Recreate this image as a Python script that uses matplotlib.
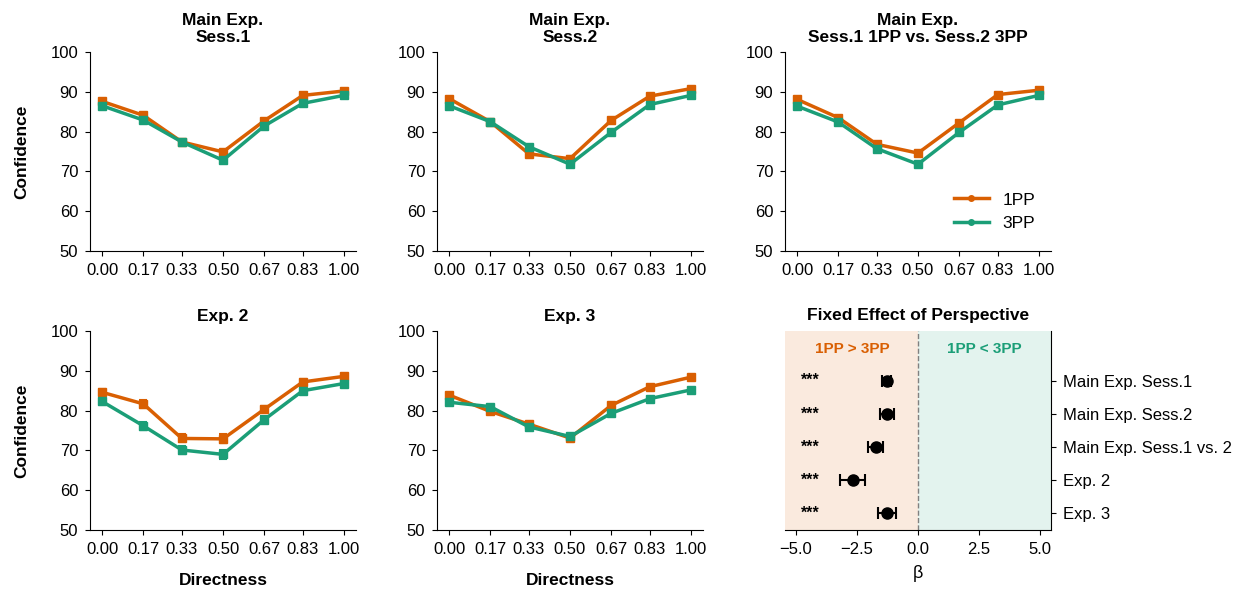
import numpy as np
import matplotlib.pyplot as plt
from matplotlib.lines import Line2D

plt.rcParams['font.family'] = ['Liberation Sans', 'DejaVu Sans']

directness = [0.00, 0.17, 0.33, 0.50, 0.67, 0.83, 1.00]
tick_labels = ['0.00', '0.17', '0.33', '0.50', '0.67', '0.83', '1.00']

# mean confidence per panel: (1PP, 3PP)
sess1_1pp = [87.6, 84.1, 77.4, 74.9, 82.7, 89.1, 90.2]
sess1_3pp = [86.5, 82.9, 77.4, 72.8, 81.4, 87.1, 89.1]
sess2_1pp = [88.3, 82.5, 74.4, 73.2, 82.8, 88.9, 90.8]
sess2_3pp = [86.5, 82.5, 76.2, 71.8, 79.8, 86.8, 89.1]
cross_1pp = [88.1, 83.5, 76.8, 74.6, 82.2, 89.3, 90.4]
cross_3pp = [86.4, 82.4, 75.7, 71.8, 79.8, 86.7, 89.1]
exp2_1pp = [84.6, 81.7, 73.0, 72.9, 80.3, 87.2, 88.6]
exp2_3pp = [82.3, 76.2, 70.1, 69.0, 77.7, 85.0, 86.8]
exp3_1pp = [83.9, 79.8, 76.6, 73.1, 81.3, 86.0, 88.4]
exp3_3pp = [82.1, 81.0, 75.9, 73.5, 79.3, 83.0, 85.2]

# standard errors
se_small = [0.5, 0.5, 0.5, 0.6, 0.5, 0.4, 0.4]
se_exp2 = [0.9, 1.0, 1.0, 1.1, 0.9, 0.7, 0.7]

panels = [
    ('Main Exp.\nSess.1', sess1_1pp, sess1_3pp, se_small),
    ('Main Exp.\nSess.2', sess2_1pp, sess2_3pp, se_small),
    ('Main Exp.\nSess.1 1PP vs. Sess.2 3PP', cross_1pp, cross_3pp, se_small),
    ('Exp. 2', exp2_1pp, exp2_3pp, se_exp2),
    ('Exp. 3', exp3_1pp, exp3_3pp, se_small),
]

# fixed effect of perspective
fe_labels = ['Main Exp. Sess.1', 'Main Exp. Sess.2', 'Main Exp. Sess.1 vs. 2', 'Exp. 2', 'Exp. 3']
fe_beta = [-1.29, -1.27, -1.73, -2.68, -1.27]
fe_ci = [0.2, 0.3, 0.3, 0.5, 0.35]
fe_sig = ['***', '***', '***', '***', '***']

c1 = '#d95f02'
c3 = '#1b9e77'

fig = plt.figure(figsize=(12.5, 5.92), dpi=100)
W, H = 1250, 592
lefts = [90, 437, 785]
tops = [52, 331]
aw, ah = 266, 199

axes = []
for r in range(2):
    for c in range(3):
        ax = fig.add_axes([lefts[c] / W, 1 - (tops[r] + ah) / H, aw / W, ah / H])
        axes.append(ax)

for i, (title, y1, y3, se) in enumerate(panels):
    ax = axes[i]
    ax.errorbar(directness, y1, yerr=se, color=c1, marker='s', ms=5.5, lw=2.5, capsize=3, capthick=1.5, elinewidth=1.5)
    ax.errorbar(directness, y3, yerr=se, color=c3, marker='s', ms=5.5, lw=2.5, capsize=3, capthick=1.5, elinewidth=1.5)
    ax.set_ylim(50, 100)
    ax.set_yticks([50, 60, 70, 80, 90, 100])
    ax.set_xticks(directness)
    ax.set_xticklabels(tick_labels)
    ax.set_title(title, fontsize=12.5, fontweight='bold', pad=7)
    ax.spines['top'].set_visible(False)
    ax.spines['right'].set_visible(False)
    ax.tick_params(labelsize=12, pad=5)
    if i in (0, 3):
        ax.set_ylabel('Confidence', fontsize=12.5, fontweight='bold', labelpad=15)
    if i >= 3:
        ax.set_xlabel('Directness', fontsize=12.5, fontweight='bold', labelpad=12)

handles = [Line2D([], [], color=c1, marker='o', ms=4, lw=2.5),
           Line2D([], [], color=c3, marker='o', ms=4, lw=2.5)]
axes[2].legend(handles, ['1PP', '3PP'], loc='lower right', frameon=False, fontsize=12.5,
               bbox_to_anchor=(1.0, 0.02))

# forest plot
ax = axes[5]
ypos = np.arange(len(fe_labels), 0, -1)
ax.axvspan(-5.45, 0, color=c1, alpha=0.13, lw=0)
ax.axvspan(0, 5.45, color=c3, alpha=0.12, lw=0)
ax.axvline(0, color='gray', ls='--', lw=1)
ax.errorbar(fe_beta, ypos, xerr=fe_ci, fmt='o', color='black', ms=8, capsize=4, elinewidth=1.5, capthick=1.5)
for yp, s in zip(ypos, fe_sig):
    ax.text(-4.4, yp, s, ha='center', va='center', fontsize=11.5, fontweight='bold')
ax.text(-2.7, 5.95, '1PP > 3PP', color=c1, ha='center', va='center', fontsize=11, fontweight='bold')
ax.text(2.7, 5.95, '1PP < 3PP', color=c3, ha='center', va='center', fontsize=11, fontweight='bold')
ax.set_xlim(-5.45, 5.45)
ax.set_ylim(0.5, 6.5)
ax.set_xticks([-5.0, -2.5, 0.0, 2.5, 5.0])
ax.set_yticks(ypos)
ax.set_yticklabels(fe_labels)
ax.yaxis.tick_right()
ax.spines['top'].set_visible(False)
ax.spines['left'].set_visible(False)
ax.tick_params(labelsize=12, pad=5)
ax.set_xlabel('β', fontsize=13, labelpad=6)
ax.set_title('Fixed Effect of Perspective', fontsize=12.5, fontweight='bold', pad=8)

fig.savefig('out.png', dpi=100)
